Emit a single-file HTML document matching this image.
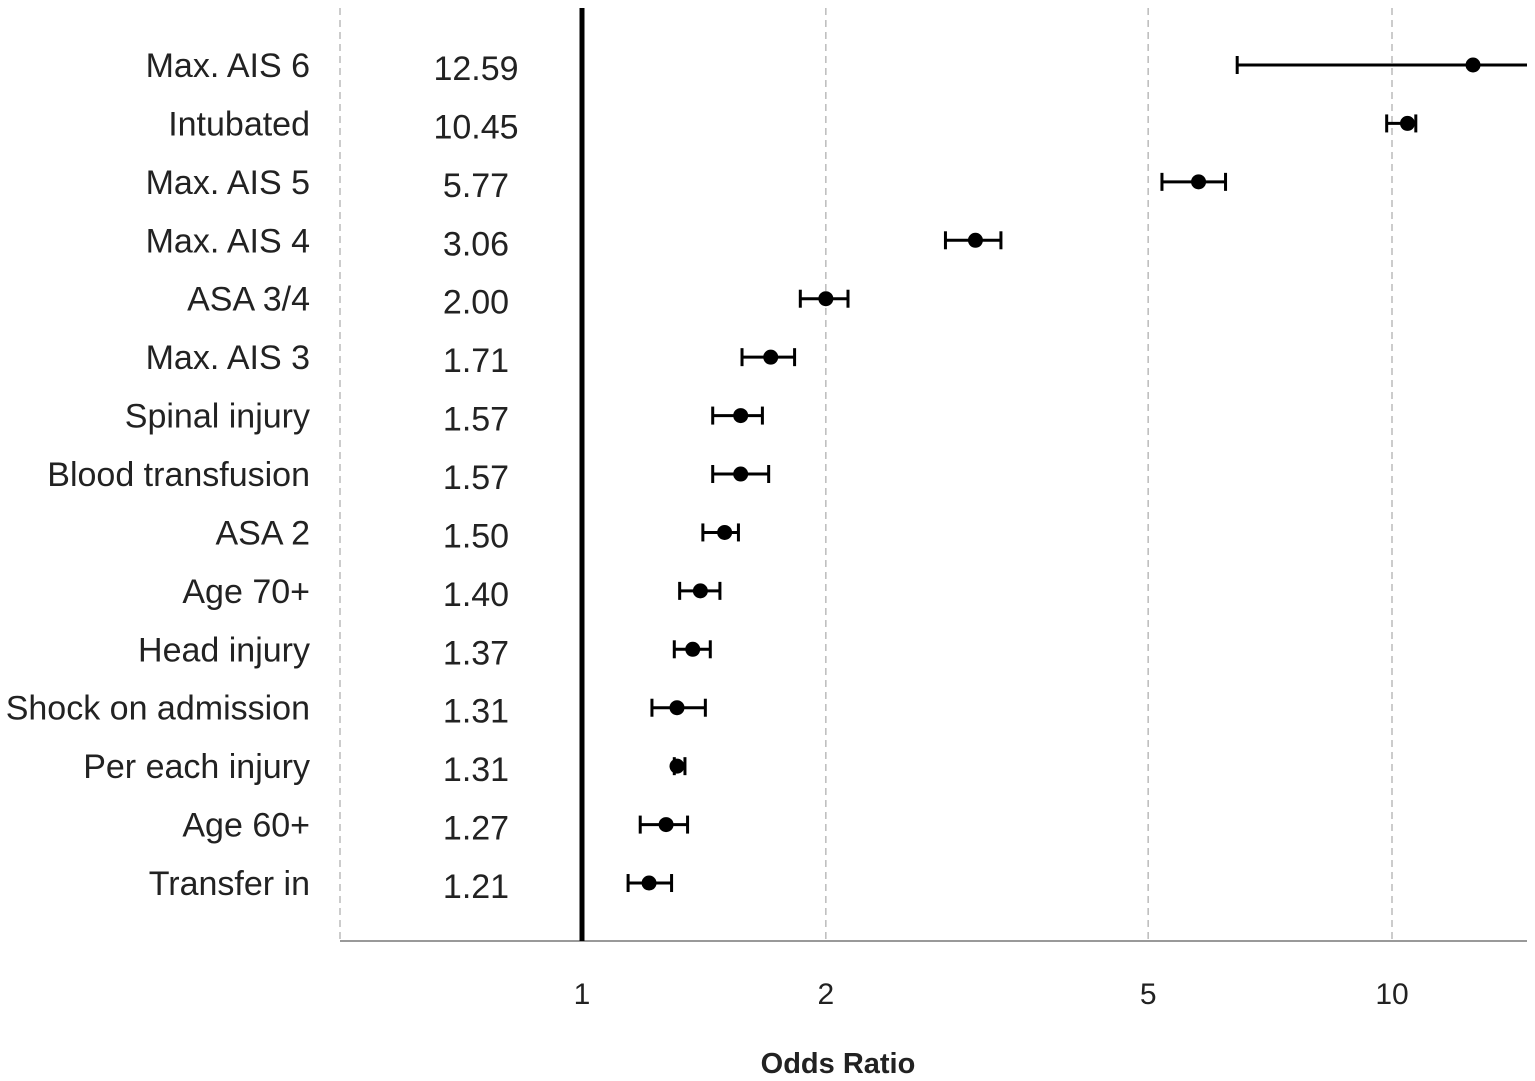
<!DOCTYPE html>
<html><head><meta charset="utf-8"><style>
body{margin:0;background:#fff;}
svg{display:block;font-family:"Liberation Sans",sans-serif;}
</style></head><body>
<svg id="chart" width="1535" height="1081"></svg>
<script>
const labels=["Max. AIS 6","Intubated","Max. AIS 5","Max. AIS 4","ASA 3/4","Max. AIS 3","Spinal injury","Blood transfusion","ASA 2","Age 70+","Head injury","Shock on admission","Per each injury","Age 60+","Transfer in"];
const orValues=[12.59,10.45,5.77,3.06,2.00,1.71,1.57,1.57,1.50,1.40,1.37,1.31,1.31,1.27,1.21];
const ciLow=[6.44,9.85,5.2,2.81,1.86,1.576,1.45,1.45,1.41,1.32,1.30,1.22,1.30,1.18,1.14];
const ciHigh=[14.7,10.7,6.23,3.29,2.13,1.83,1.67,1.70,1.56,1.48,1.44,1.42,1.34,1.35,1.29];
const ticks=[1,2,5,10];
const NS="http://www.w3.org/2000/svg";
const svgEl=document.getElementById('chart');
const xMin=340,xMax=1527,plotTop=8,plotBottom=941;
function x(v){return Math.min(xMax,582+810*Math.log10(v));}
function y(i){return 65+i*58.43;}
function mk(t,a,txt){const el=document.createElementNS(NS,t);for(const k in a)el.setAttribute(k,a[k]);if(txt!=null)el.textContent=txt;svgEl.appendChild(el);return el;}
let e;
e=mk('line',{x1:xMin,y1:plotTop,x2:xMin,y2:plotBottom,stroke:'#bbb','stroke-width':1.5,'stroke-dasharray':'7,5'});


ticks.forEach(t=>{
 if(t!==1){e=mk('line',{x1:x(t),y1:plotTop,x2:x(t),y2:plotBottom,stroke:'#bbb','stroke-width':1.5,'stroke-dasharray':'7,5'});
 
 }
 e=mk('text',{x:x(t),y:1004,'text-anchor':'middle','font-size':30,fill:'#222'},t);
 
 
});
e=mk('line',{x1:xMin,y1:plotBottom,x2:xMax,y2:plotBottom,stroke:'#999','stroke-width':2});


e=mk('line',{x1:x(1),y1:plotTop,x2:x(1),y2:plotBottom,stroke:'#000','stroke-width':5});


e=mk('text',{x:838,y:1073,'text-anchor':'middle','font-size':29,'font-weight':'bold',fill:'#222'},'Odds Ratio');


labels.forEach((l,i)=>{
 const yy=y(i);
 e=mk('text',{x:310,y:yy+12,'text-anchor':'end','font-size':34,fill:'#222'},l);
 
 
 e=mk('text',{x:476,y:yy+15,'text-anchor':'middle','font-size':34,fill:'#222'},orValues[i].toFixed(2));
 
 
 const x1=x(ciLow[i]),x2=x(ciHigh[i]);
 e=mk('line',{x1:x1,y1:yy,x2:x2,y2:yy,stroke:'#000','stroke-width':3});
 
 
 [x1,x2].forEach(xx=>{if(xx<xMax){e=mk('line',{x1:xx,y1:yy-9,x2:xx,y2:yy+9,stroke:'#000','stroke-width':3});
 
 }});
 e=mk('circle',{cx:x(orValues[i]),cy:yy,r:7.5,fill:'#000'});
 
 
});
</script>
</body></html>
